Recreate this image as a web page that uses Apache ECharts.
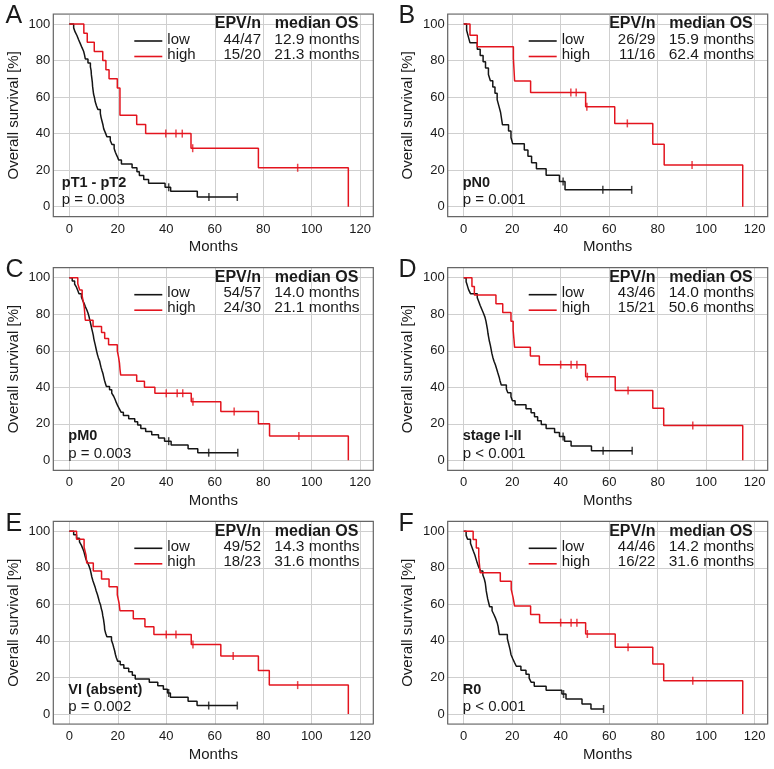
<!DOCTYPE html>
<html>
<head>
<meta charset="utf-8">
<script src="https://cdn.jsdelivr.net/npm/echarts@6/dist/echarts.min.js"></script>
<style>
html, body { margin: 0; padding: 0; background: #fff; }
#chart { width: 774px; height: 769px; }
</style>
</head>
<body>
<div id="chart"></div>
<script>
'use strict';

// labels per panel
var panelLetters = ['A', 'B', 'C', 'D', 'E', 'F'];
var subsetLabels = ['pT1 - pT2', 'pN0', 'pM0', 'stage I-II', 'VI (absent)', 'R0'];
var pValues = ['p = 0.003', 'p = 0.001', 'p = 0.003', 'p < 0.001', 'p = 0.002', 'p < 0.001'];
var lowEPV = ['44/47', '26/29', '54/57', '43/46', '49/52', '44/46'];
var highEPV = ['15/20', '11/16', '24/30', '15/21', '18/23', '16/22'];
var lowMedian = ['12.9 months', '15.9 months', '14.0 months', '14.0 months', '14.3 months', '14.2 months'];
var highMedian = ['21.3 months', '62.4 months', '21.1 months', '50.6 months', '31.6 months', '31.6 months'];
var xTicks = [0, 20, 40, 60, 80, 100, 120];
var yTicks = [0, 20, 40, 60, 80, 100];

// Kaplan-Meier curves: event times (months), survival after the event (%), censor times
var lowTimesA = [1.8, 2.4, 3.2, 3.8, 4.5, 5.2, 5.9, 6.3, 6.6, 7.7, 8.7, 9.0, 9.1, 9.3, 9.5, 9.6, 9.8, 10.0, 10.4, 10.7, 11.2, 11.8, 12.8, 13.1, 13.5, 13.9, 14.2, 14.9, 15.5, 16.9, 17.6, 18.5, 19.0, 19.7, 20.4, 21.5, 25.9, 27.9, 28.9, 30.7, 32.7, 39.5, 41.8, 52.8];
var lowSurvA = [97.9, 95.7, 93.6, 91.5, 89.4, 87.2, 85.1, 83.0, 80.9, 78.7, 76.6, 74.5, 72.3, 70.2, 68.1, 66.0, 63.8, 61.7, 59.6, 57.4, 55.3, 53.2, 51.1, 48.9, 46.8, 44.7, 42.6, 40.4, 38.3, 36.2, 34.0, 31.9, 29.8, 27.7, 25.5, 23.4, 21.3, 19.1, 17.0, 14.9, 12.8, 10.6, 8.5, 5.3];
var lowCensA = [41.0, 57.6, 69.3];
var highTimesA = [6.0, 7.4, 10.3, 13.8, 15.1, 16.4, 19.8, 20.9, 27.8, 31.5, 50.2, 78.0, 115.1];
var highSurvA = [95, 90, 85, 80, 75, 70, 65, 50, 45, 40, 32, 21.3, 0];
var highCensA = [39.8, 44.0, 46.6, 50.9, 94.2];

var lowTimesB = [1.2, 1.9, 2.6, 5.6, 6.8, 8.0, 9.0, 10.2, 11.0, 12.0, 12.9, 13.8, 14.5, 15.2, 16.0, 18.5, 19.5, 20.2, 25.0, 26.5, 28.0, 30.0, 34.0, 39.5, 41.8];
var lowSurvB = [96.6, 93.1, 89.7, 86.2, 82.8, 79.3, 75.9, 72.4, 69.0, 65.5, 62.1, 58.6, 55.2, 51.7, 44.8, 41.4, 37.9, 34.5, 31.0, 27.6, 24.1, 20.7, 17.2, 13.8, 9.2];
var lowCensB = [41.0, 57.4, 69.3];
var highTimesB = [2.6, 5.6, 20.5, 21.0, 27.6, 50.3, 62.3, 78.0, 82.7, 115.1];
var highSurvB = [93.8, 87.5, 81.3, 68.8, 62.5, 54.7, 45.6, 34.2, 22.8, 0];
var highCensB = [44.2, 46.4, 50.8, 67.5, 94.2];

var lowTimesC = [1.2, 2.2, 3.0, 3.5, 4.0, 5.0, 5.5, 6.1, 6.6, 7.2, 7.7, 8.1, 8.4, 8.7, 9.0, 9.3, 9.6, 9.9, 10.1, 10.4, 10.7, 11.0, 11.3, 11.6, 12.0, 12.5, 12.8, 13.1, 13.5, 13.9, 14.2, 14.5, 14.9, 15.3, 16.6, 17.5, 18.3, 18.9, 19.4, 20.0, 20.7, 21.4, 22.3, 24.5, 27.0, 28.2, 29.5, 31.5, 34.0, 36.8, 39.3, 42.0, 49.0, 53.0];
var lowSurvC = [98.2, 96.5, 94.7, 93.0, 91.2, 89.5, 87.7, 86.0, 84.2, 82.5, 80.7, 78.9, 77.2, 75.4, 73.7, 71.9, 70.2, 68.4, 66.7, 64.9, 63.2, 61.4, 59.6, 57.9, 56.1, 54.4, 52.6, 50.9, 49.1, 47.4, 45.6, 43.9, 42.1, 40.4, 38.6, 36.8, 35.1, 33.3, 31.6, 29.8, 28.1, 26.3, 24.6, 22.8, 21.1, 19.3, 17.5, 15.8, 14.0, 12.3, 10.5, 8.4, 6.3, 4.2];
var lowCensC = [41.0, 57.5, 69.5];
var highTimesC = [3.5, 4.3, 5.3, 5.8, 6.2, 6.4, 6.6, 9.8, 13.3, 14.6, 16.2, 19.8, 20.3, 20.7, 20.9, 21.2, 27.8, 31.0, 35.3, 50.3, 62.5, 78.0, 82.6, 115.1];
var highSurvC = [96.7, 93.3, 90.0, 86.7, 83.3, 80.0, 76.7, 73.3, 70.0, 66.7, 63.3, 60.0, 56.7, 53.3, 50.0, 46.7, 43.3, 40.0, 36.7, 32.1, 26.8, 20.1, 13.4, 0];
var highCensC = [40.0, 44.5, 46.8, 51.0, 68.0, 94.7];

var lowTimesD = [1.0, 1.5, 2.0, 2.8, 5.6, 6.2, 6.8, 7.5, 8.2, 8.8, 9.2, 9.5, 9.8, 10.0, 10.3, 10.6, 11.0, 11.3, 11.6, 12.0, 12.5, 13.1, 13.6, 14.1, 14.6, 15.0, 15.5, 17.6, 18.2, 19.5, 20.1, 21.2, 25.7, 27.8, 29.2, 30.5, 32.0, 34.0, 37.5, 39.5, 41.6, 44.3, 52.7];
var lowSurvD = [97.8, 95.7, 93.5, 91.3, 89.1, 87.0, 84.8, 82.6, 80.4, 78.3, 76.1, 73.9, 71.7, 69.6, 67.4, 65.2, 63.0, 60.9, 58.7, 56.5, 54.3, 52.2, 50.0, 47.8, 45.7, 43.5, 41.3, 39.1, 37.0, 34.8, 32.6, 30.4, 28.3, 26.1, 23.9, 21.7, 19.6, 17.4, 15.2, 13.0, 10.4, 7.8, 5.2];
var lowCensD = [41.0, 57.5, 69.5];
var highTimesD = [3.4, 4.4, 13.3, 16.1, 19.5, 20.4, 20.7, 21.0, 27.5, 31.2, 50.3, 62.5, 78.0, 82.5, 115.1];
var highSurvD = [95.2, 90.5, 85.7, 81.0, 76.2, 71.4, 66.7, 61.9, 57.1, 52.4, 45.8, 38.2, 28.6, 19.1, 0];
var highCensD = [40.0, 44.3, 46.7, 51.0, 67.8, 94.5];

var lowTimesE = [1.8, 3.0, 4.2, 5.0, 5.6, 6.1, 6.5, 6.9, 7.6, 8.2, 8.7, 9.0, 9.3, 9.7, 10.2, 10.7, 11.1, 11.6, 12.0, 12.4, 12.9, 13.2, 13.6, 13.8, 14.1, 14.3, 14.5, 14.6, 15.0, 15.5, 17.4, 17.9, 18.3, 18.7, 19.0, 19.4, 20.0, 21.0, 22.5, 24.5, 26.0, 27.2, 33.0, 36.5, 38.8, 40.5, 41.7, 49.0, 52.7];
var lowSurvE = [98.1, 96.2, 94.2, 92.3, 90.4, 88.5, 86.5, 84.6, 82.7, 80.8, 78.8, 76.9, 75.0, 73.1, 71.2, 69.2, 67.3, 65.4, 63.5, 61.5, 59.6, 57.7, 55.8, 53.8, 51.9, 50.0, 48.1, 46.2, 44.2, 42.3, 40.4, 38.5, 36.5, 34.6, 32.7, 30.8, 28.8, 26.9, 25.0, 23.1, 21.2, 19.2, 17.3, 15.4, 13.5, 11.5, 9.2, 6.9, 4.6];
var lowCensE = [41.0, 57.5, 69.3];
var highTimesE = [3.0, 6.1, 6.9, 7.2, 9.9, 13.3, 16.4, 19.8, 20.5, 20.9, 26.4, 31.2, 34.9, 50.3, 62.5, 78.0, 82.5, 115.1];
var highSurvE = [95.7, 91.3, 87.0, 82.6, 78.3, 73.9, 69.6, 65.2, 60.9, 56.5, 52.2, 47.8, 43.5, 38.0, 31.7, 23.8, 15.8, 0];
var highCensE = [40.0, 44.0, 51.0, 67.6, 94.2];

var lowTimesF = [1.0, 1.6, 2.8, 3.4, 4.0, 4.6, 5.1, 5.6, 6.2, 7.0, 7.9, 8.5, 8.9, 9.1, 9.3, 9.6, 9.9, 10.3, 10.7, 11.7, 12.5, 13.2, 13.8, 14.2, 14.4, 14.7, 18.0, 18.4, 18.8, 19.2, 19.5, 20.2, 20.9, 21.7, 23.6, 25.7, 27.0, 27.8, 29.1, 34.0, 40.5, 42.2, 48.8, 52.5];
var lowSurvF = [97.8, 95.7, 93.5, 91.3, 89.1, 87.0, 84.8, 82.6, 80.4, 78.3, 76.1, 73.9, 71.7, 69.6, 67.4, 65.2, 63.0, 60.9, 58.7, 56.5, 54.3, 52.2, 50.0, 47.8, 45.7, 43.5, 41.3, 39.1, 37.0, 34.8, 32.6, 30.4, 28.3, 26.1, 23.9, 21.7, 19.6, 17.4, 15.2, 13.0, 10.9, 8.2, 5.4, 2.7];
var lowCensF = [41.2, 57.7];
var highTimesF = [3.9, 5.2, 6.2, 6.5, 6.8, 15.1, 19.6, 20.4, 21.0, 27.6, 31.3, 50.3, 62.5, 78.0, 82.5, 115.1];
var highSurvF = [95.5, 90.9, 86.4, 81.8, 77.3, 72.7, 68.2, 63.6, 59.1, 54.5, 50.0, 43.8, 36.5, 27.3, 18.2, 0];
var highCensF = [40.0, 44.3, 46.7, 51.0, 67.8, 94.5];

var panels = [
    { low: [lowTimesA, lowSurvA, lowCensA], high: [highTimesA, highSurvA, highCensA] },
    { low: [lowTimesB, lowSurvB, lowCensB], high: [highTimesB, highSurvB, highCensB] },
    { low: [lowTimesC, lowSurvC, lowCensC], high: [highTimesC, highSurvC, highCensC] },
    { low: [lowTimesD, lowSurvD, lowCensD], high: [highTimesD, highSurvD, highCensD] },
    { low: [lowTimesE, lowSurvE, lowCensE], high: [highTimesE, highSurvE, highCensE] },
    { low: [lowTimesF, lowSurvF, lowCensF], high: [highTimesF, highSurvF, highCensF] }
];

// layout
var colLeft = [53.3, 447.7];
var rowTop = [14, 267.7, 521.3];
var plotW = 320, plotH = 202.7;
var FONT = '"Liberation Sans", Arial, sans-serif';
var RED = '#e3141e', BLACK = '#151515', TXT = '#1a1a1a';

function survAt(times, surv, t) {
    var s = 100;
    for (var i = 0; i < times.length; i++) {
        if (times[i] <= t) s = surv[i];
    }
    return s;
}

function stepLine(times, surv, cens) {
    var pts = [[0, 100]];
    for (var i = 0; i < times.length; i++) pts.push([times[i], surv[i]]);
    var lastC = Math.max.apply(null, cens);
    if (lastC > times[times.length - 1]) pts.push([lastC, surv[surv.length - 1]]);
    return pts;
}

function censPoints(times, surv, cens) {
    return cens.map(function (c) { return [c, survAt(times, surv, c)]; });
}

function txt(x, y, s, align, bold, size) {
    return {
        type: 'text', x: x, y: y, silent: true, z: 50,
        style: {
            text: s, fill: TXT, fontSize: size || 15, fontFamily: FONT,
            fontWeight: bold ? 'bold' : 'normal',
            align: align, textAlign: align, verticalAlign: 'middle', textVerticalAlign: 'middle'
        }
    };
}

function seg(x1, x2, y, color) {
    return {
        type: 'line', silent: true, z: 50,
        shape: { x1: x1, y1: y, x2: x2, y2: y },
        style: { stroke: color, lineWidth: 1.6 }
    };
}

function onTick(list) {
    return function (v) {
        var r = Math.round(v * 1000) / 1000;
        return list.indexOf(r) >= 0 ? String(r) : '';
    };
}

var grids = [], xAxes = [], yAxes = [], series = [], graphics = [];

panels.forEach(function (p, i) {
    var L = colLeft[i % 2], T = rowTop[Math.floor(i / 2)];
    grids.push({ left: L, top: T, width: plotW, height: plotH });
    xAxes.push({
        gridIndex: i, type: 'value', min: -6.6, max: 125.4, splitNumber: 6,
        axisLine: { show: false }, axisTick: { show: false },
        axisLabel: { fontSize: 13, color: TXT, fontFamily: FONT, margin: 6, formatter: onTick(xTicks) },
        splitLine: { lineStyle: { color: '#cfcfcf', width: 1 } },
        name: 'Months', nameLocation: 'middle', nameGap: 23,
        nameTextStyle: { fontSize: 15, color: TXT, fontFamily: FONT }
    });
    yAxes.push({
        gridIndex: i, type: 'value', min: -5.5, max: 105.5, splitNumber: 5,
        axisLine: { show: false }, axisTick: { show: false },
        axisLabel: { fontSize: 13, color: TXT, fontFamily: FONT, margin: 3, formatter: onTick(yTicks) },
        splitLine: { lineStyle: { color: '#cfcfcf', width: 1 } },
        name: 'Overall survival [%]', nameLocation: 'middle', nameGap: 32,
        nameTextStyle: { fontSize: 15, color: TXT, fontFamily: FONT }
    });

    [['low', BLACK], ['high', RED]].forEach(function (g) {
        var d = p[g[0]];
        series.push({
            type: 'line', xAxisIndex: i, yAxisIndex: i, step: 'end',
            data: stepLine(d[0], d[1], d[2]), showSymbol: false, symbol: 'none',
            lineStyle: { color: g[1], width: 1.5 }, silent: true
        });
        series.push({
            type: 'scatter', xAxisIndex: i, yAxisIndex: i,
            data: censPoints(d[0], d[1], d[2]), symbol: 'rect', symbolSize: [1.5, 8],
            itemStyle: { color: g[1] }, silent: true
        });
    });

    // frame
    graphics.push({
        type: 'rect', silent: true, z: 40,
        shape: { x: L, y: T, width: plotW, height: plotH },
        style: { fill: 'none', stroke: '#666', lineWidth: 1.2 }
    });
    // panel letter
    graphics.push(txt(i % 2 === 0 ? 5.5 : 398.5, T + 2.5, panelLetters[i], 'left', false, 25));
    // table header and rows
    graphics.push(txt(L + 207.7, T + 10, 'EPV/n', 'right', true, 16));
    graphics.push(txt(L + 221.5, T + 10, 'median OS', 'left', true, 16));
    graphics.push(seg(L + 81, L + 109, T + 27, BLACK));
    graphics.push(txt(L + 114, T + 25.5, 'low', 'left'));
    graphics.push(txt(L + 207.7, T + 25.5, lowEPV[i], 'right'));
    graphics.push(txt(L + 221, T + 25.5, lowMedian[i], 'left', false, 15.5));
    graphics.push(seg(L + 81, L + 109, T + 42.5, RED));
    graphics.push(txt(L + 114, T + 40.5, 'high', 'left'));
    graphics.push(txt(L + 207.7, T + 40.5, highEPV[i], 'right'));
    graphics.push(txt(L + 221, T + 40.5, highMedian[i], 'left', false, 15.5));
    // subset and p value
    var lx = L + (i === 0 ? 8.5 : 15);
    graphics.push(txt(lx, T + 168.5, subsetLabels[i], 'left', true, 14.5));
    graphics.push(txt(lx, T + 186, pValues[i], 'left'));
});

var chart = echarts.init(document.getElementById('chart'), null, { renderer: 'canvas' });
chart.setOption({
    backgroundColor: '#fff',
    animation: false,
    grid: grids,
    xAxis: xAxes,
    yAxis: yAxes,
    series: series,
    graphic: graphics
});
</script>
</body>
</html>
